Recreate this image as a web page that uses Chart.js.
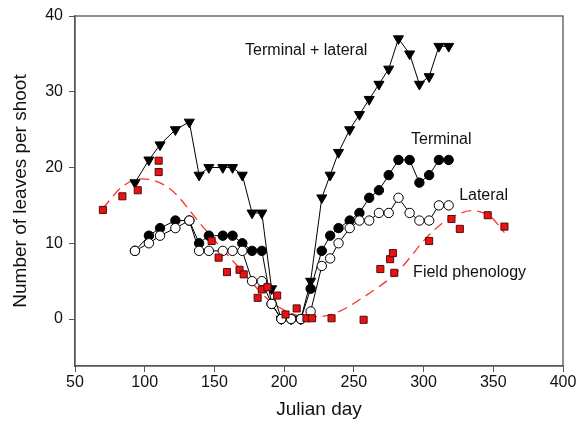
<!DOCTYPE html>
<html>
<head>
<meta charset="utf-8">
<script src="https://cdn.jsdelivr.net/npm/chart.js@4/dist/chart.umd.min.js"></script>
<style>
  html, body { margin: 0; padding: 0; background: #fff; }
  #wrap { width: 587px; height: 422px; }
</style>
</head>
<body>
<div id="wrap"><canvas id="leafChart" width="587" height="422"></canvas></div>
<script>
// Julian days sampled for the shoot counts
const days = [93, 103, 111, 122, 132, 139, 146, 156, 163, 170, 177, 184, 191, 198, 205, 212,
              219, 227, 233, 239, 247, 254, 261, 268, 275, 282, 290, 297, 304, 311, 318];
const terminalLateral = [18, 21, 23, 25, 26, 19, 20, 20, 20, 19, 14, 14, 4, 0, 0, 0,
                         5, 16, 19, 22, 25, 27, 29, 31, 33, 37, 35, 31, 32, 36, 36];
const terminal = [9, 11, 12, 13, 13, 10, 11, 11, 11, 10, 9, 9, 2, 0, 0, 0,
                  4, 9, 11, 12, 13, 14, 16, 17, 19, 21, 21, 18, 19, 21, 21];
const lateral = [9, 10, 11, 12, 13, 9, 9, 9, 9, 9, 5, 5, 2, 0, 0, 0,
                 1, 7, 8, 10, 12, 13, 13, 14, 14, 16, 14, 13, 13, 15, 15];

// Field phenology observations
const fieldDays = [70, 84, 95, 110, 110, 148, 153, 159, 168, 171, 181, 184, 188, 195, 201, 209,
                   216, 220, 234, 257, 269, 276, 278, 279, 304, 320, 326, 346, 358];
const fieldLeaves = [14.4, 16.2, 17.0, 20.9, 19.4, 10.3, 8.1, 6.2, 6.5, 5.9, 2.8, 3.9, 4.2, 3.1, 0.6, 1.4,
                     0.1, 0.1, 0.1, -0.1, 6.6, 7.9, 8.7, 6.1, 10.3, 13.2, 11.9, 13.7, 12.2];

// Fitted curve through field data
const fitDays = [70, 84, 98, 118, 142, 166, 189, 202, 212, 223, 237, 257, 281, 305, 319, 335, 348, 358];
const fitLeaves = [14.6, 17.5, 18.5, 17.2, 12.1, 7.1, 2.5, 1.0, 0.4, 0.3, 0.8, 2.9, 6.2, 11.3, 13.3, 14.3, 13.5, 11.4];

// Axis ticks
const xTicks = [50, 100, 150, 200, 250, 300, 350, 400];
const yTicks = [0, 10, 20, 30, 40];

// Series labels placed in data coordinates
const seriesLabels = ["Terminal + lateral", "Terminal", "Lateral", "Field phenology"];
const labelDays = [172, 291, 325.5, 292.5];
const labelLeaves = [35.4, 23.7, 16.3, 6.1];

const toPoints = (xs, ys) => xs.map((x, i) => ({ x, y: ys[i] }));

const FONT = "Arial, 'Liberation Sans', sans-serif";
const AXIS_COLOR = "#555";

// frame + in-plot labels
const framePlugin = {
    id: "frame",
    afterDatasetsDraw(chart) {
        const { ctx, chartArea: a, scales } = chart;
        ctx.save();
        ctx.strokeStyle = AXIS_COLOR;
        ctx.lineWidth = 1.3;
        ctx.strokeRect(a.left, a.top, a.right - a.left, a.bottom - a.top);

        ctx.fillStyle = "#111";
        ctx.font = "16px " + FONT;
        ctx.textAlign = "left";
        ctx.textBaseline = "middle";
        seriesLabels.forEach((txt, i) => {
            ctx.fillText(txt, scales.x.getPixelForValue(labelDays[i]), scales.y.getPixelForValue(labelLeaves[i]));
        });
        ctx.restore();
    }
};

const ctx = document.getElementById("leafChart").getContext("2d");
new Chart(ctx, {
    type: "line",
    data: {
        datasets: [
            {
                label: "Field phenology",
                data: toPoints(fieldDays, fieldLeaves),
                showLine: false,
                pointStyle: "rect",
                pointRadius: 5,
                backgroundColor: "#ee0f0f",
                borderColor: "#4a1010",
                borderWidth: 1
            },
            {
                label: "Lateral",
                data: toPoints(days, lateral),
                borderColor: "#000",
                borderWidth: 1,
                pointStyle: "circle",
                pointRadius: 4.7,
                pointBackgroundColor: "#fff",
                pointBorderColor: "#000",
                pointBorderWidth: 1
            },
            {
                label: "Terminal",
                data: toPoints(days, terminal),
                borderColor: "#000",
                borderWidth: 1,
                pointStyle: "circle",
                pointRadius: 4.7,
                pointBackgroundColor: "#000",
                pointBorderColor: "#000",
                pointBorderWidth: 1
            },
            {
                label: "Terminal + lateral",
                data: toPoints(days, terminalLateral),
                borderColor: "#000",
                borderWidth: 1,
                pointStyle: "triangle",
                rotation: 180,
                pointRadius: 5.8,
                pointBackgroundColor: "#000",
                pointBorderColor: "#000",
                pointBorderWidth: 1
            },
            {
                label: "Fit",
                data: toPoints(fitDays, fitLeaves),
                borderColor: "#ff3030",
                borderWidth: 1.3,
                borderDash: [10, 6],
                pointRadius: 0,
                cubicInterpolationMode: "monotone"
            }
        ]
    },
    options: {
        responsive: false,
        animation: false,
        layout: { padding: { top: 16, right: 24, left: 0, bottom: 0 } },
        plugins: {
            legend: { display: false },
            tooltip: { enabled: false }
        },
        scales: {
            x: {
                type: "linear",
                min: 50,
                max: 400,
                afterBuildTicks: s => { s.ticks = xTicks.map(v => ({ value: v })); },
                afterFit: s => { s.height = 56; },
                grid: { drawOnChartArea: false, drawTicks: true, tickLength: 6, color: AXIS_COLOR },
                border: { color: AXIS_COLOR, width: 1.3 },
                ticks: { color: "#111", font: { family: FONT, size: 16 }, padding: 1, maxRotation: 0 },
                title: {
                    display: true,
                    text: "Julian day",
                    color: "#111",
                    font: { family: FONT, size: 19 },
                    padding: { top: 0, bottom: 1 }
                }
            },
            y: {
                min: -6.2,
                max: 40,
                afterBuildTicks: s => { s.ticks = yTicks.map(v => ({ value: v })); },
                afterFit: s => { s.width = 75; },
                grid: { drawOnChartArea: false, drawTicks: true, tickLength: 6, color: AXIS_COLOR },
                border: { color: AXIS_COLOR, width: 1.3 },
                ticks: { color: "#111", font: { family: FONT, size: 16 }, padding: 6 },
                title: {
                    display: true,
                    text: "Number of leaves per shoot",
                    color: "#111",
                    font: { family: FONT, size: 19 },
                    padding: { top: 9, bottom: 0 }
                }
            }
        }
    },
    plugins: [framePlugin]
});
</script>
</body>
</html>
